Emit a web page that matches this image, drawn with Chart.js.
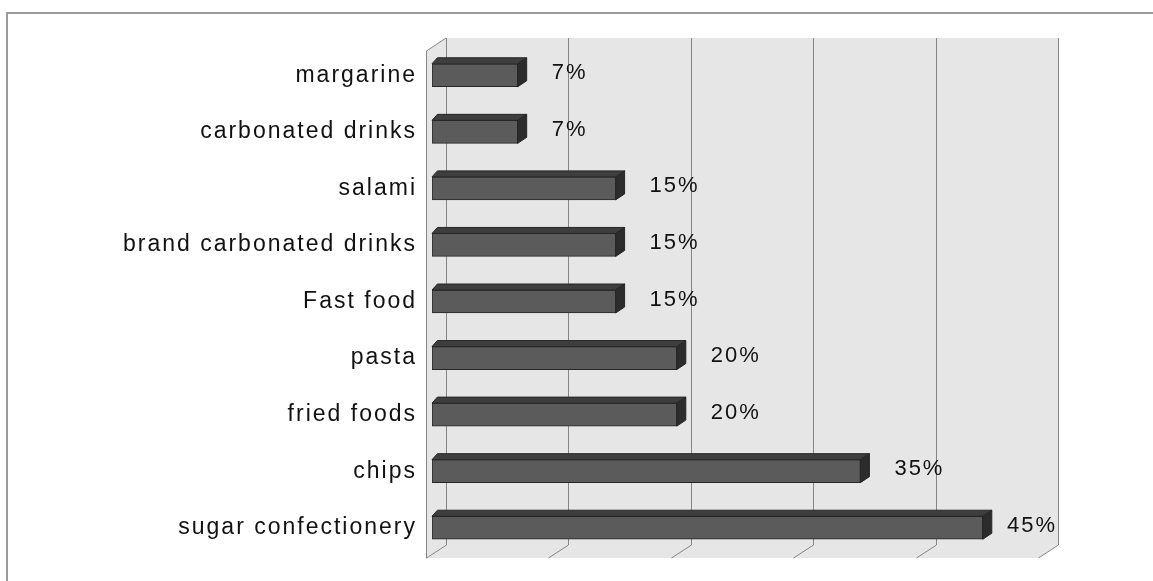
<!DOCTYPE html>
<html>
<head>
<meta charset="utf-8">
<script src="https://cdn.jsdelivr.net/npm/chart.js@4.4.1/dist/chart.umd.min.js"></script>
<style>
  html, body { margin: 0; padding: 0; background: #ffffff; }
  #wrap { width: 1153px; height: 581px; position: relative; }
</style>
</head>
<body>
<div id="wrap"><canvas id="c" width="1153" height="581"></canvas></div>
<script>
// Foods and their share of mentions (%)
const categories = [
  'margarine',
  'carbonated drinks',
  'salami',
  'brand carbonated drinks',
  'Fast food',
  'pasta',
  'fried foods',
  'chips',
  'sugar confectionery'
];
const shares = [7, 7, 15, 15, 15, 20, 20, 35, 45];
const gridValues = [0, 10, 20, 30, 40, 50];

// Pseudo-3D geometry (pixels)
const WALL_DX = 14;     // back wall offset from the bar front plane
const DEPTH_DX = 20;    // wall/floor depth, x
const BAR_DX = 9;       // bar depth, x
const BAR_DY = -6;      // bar depth, y
const FONT_FAMILY = '"Liberation Sans", Arial, sans-serif';
const LABEL_FONT = '22px ' + FONT_FAMILY;
const TEXT_SPACING = '2px';

const outerFrame = {
  id: 'outerFrame',
  beforeDraw(chart) {
    const ctx = chart.ctx;
    ctx.letterSpacing = TEXT_SPACING;
    ctx.save();
    ctx.strokeStyle = '#9c9c9c';
    ctx.lineWidth = 2;
    ctx.strokeRect(7, 13, chart.width + 10, chart.height + 10);
    ctx.restore();
  }
};

const walls = {
  id: 'walls',
  beforeDatasetsDraw(chart) {
    const ctx = chart.ctx;
    const xs = chart.scales.x;
    const area = chart.chartArea;
    const bx = v => xs.getPixelForValue(v) + WALL_DX;
    const top = area.top - 9;
    const bottom = area.bottom - 11;
    const fTop = area.top + 4;
    const fBottom = area.bottom + 2;
    const x0 = bx(gridValues[0]);
    const x1 = bx(gridValues[gridValues.length - 1]);
    ctx.save();
    ctx.fillStyle = '#e6e6e6';
    // back wall
    ctx.fillRect(x0, top, x1 - x0, bottom - top);
    // side wall
    ctx.beginPath();
    ctx.moveTo(x0 - DEPTH_DX, fTop);
    ctx.lineTo(x0, top);
    ctx.lineTo(x0, bottom);
    ctx.lineTo(x0 - DEPTH_DX, fBottom);
    ctx.closePath();
    ctx.fill();
    // floor
    ctx.beginPath();
    ctx.moveTo(x0, bottom);
    ctx.lineTo(x1, bottom);
    ctx.lineTo(x1 - DEPTH_DX, fBottom);
    ctx.lineTo(x0 - DEPTH_DX, fBottom);
    ctx.closePath();
    ctx.fill();

    // grid lines on the back wall, continued across the floor
    ctx.strokeStyle = '#858585';
    ctx.lineWidth = 1;
    gridValues.forEach(v => {
      const x = Math.round(bx(v)) + 0.5;
      ctx.beginPath();
      ctx.moveTo(x, top);
      ctx.lineTo(x, bottom);
      ctx.lineTo(x - DEPTH_DX, fBottom);
      ctx.stroke();
    });
    // front edge of the side wall
    const fx = Math.round(x0 - DEPTH_DX) + 0.5;
    ctx.beginPath();
    ctx.moveTo(x0, top);
    ctx.lineTo(fx, fTop);
    ctx.lineTo(fx, fBottom);
    ctx.stroke();
    ctx.restore();
  }
};

const barFaces = {
  id: 'barFaces',
  afterDatasetsDraw(chart) {
    const ctx = chart.ctx;
    const xs = chart.scales.x;
    const wallRight = xs.getPixelForValue(gridValues[gridValues.length - 1]) + WALL_DX;
    const meta = chart.getDatasetMeta(0);
    ctx.save();
    ctx.lineWidth = 1;
    ctx.strokeStyle = '#262626';
    meta.data.forEach((el, i) => {
      const { x, y, base, height } = el.getProps(['x', 'y', 'base', 'height'], true);
      const t = y - height / 2;
      const b = y + height / 2;
      // top face
      ctx.fillStyle = '#3e3e3e';
      ctx.beginPath();
      ctx.moveTo(base, t);
      ctx.lineTo(base + BAR_DX * 0.6, t + BAR_DY);
      ctx.lineTo(x + BAR_DX, t + BAR_DY);
      ctx.lineTo(x, t);
      ctx.closePath();
      ctx.fill();
      ctx.stroke();
      // end face
      ctx.fillStyle = '#2c2c2c';
      ctx.beginPath();
      ctx.moveTo(x, t);
      ctx.lineTo(x + BAR_DX, t + BAR_DY);
      ctx.lineTo(x + BAR_DX, b + BAR_DY);
      ctx.lineTo(x, b);
      ctx.closePath();
      ctx.fill();
      ctx.stroke();

      // value label
      const text = shares[i] + '%';
      ctx.font = LABEL_FONT;
      ctx.fillStyle = '#111111';
      ctx.textBaseline = 'middle';
      ctx.textAlign = 'left';
      const w = ctx.measureText(text).width;
      const lx = Math.min(x + BAR_DX + 25, wallRight - w - 1);
      ctx.fillText(text, lx, y - 2);
    });
    ctx.restore();
  }
};

new Chart(document.getElementById('c'), {
  type: 'bar',
  data: {
    labels: categories,
    datasets: [{
      data: shares,
      backgroundColor: '#5b5b5b',
      borderColor: '#262626',
      borderWidth: 1,
      borderSkipped: false,
      barThickness: 23
    }]
  },
  options: {
    indexAxis: 'y',
    responsive: false,
    animation: false,
    layout: { padding: { left: 0, right: 109, top: 47, bottom: 25 } },
    plugins: { legend: { display: false }, tooltip: { enabled: false } },
    scales: {
      x: { display: false, min: 0, max: 50 },
      y: {
        grid: { display: false },
        border: { display: false },
        ticks: {
          padding: 7,
          color: '#111111',
          font: { family: FONT_FAMILY, size: 23 }
        },
        afterFit(axis) { axis.width = 432; }
      }
    }
  },
  plugins: [outerFrame, walls, barFaces]
});
</script>
</body>
</html>
